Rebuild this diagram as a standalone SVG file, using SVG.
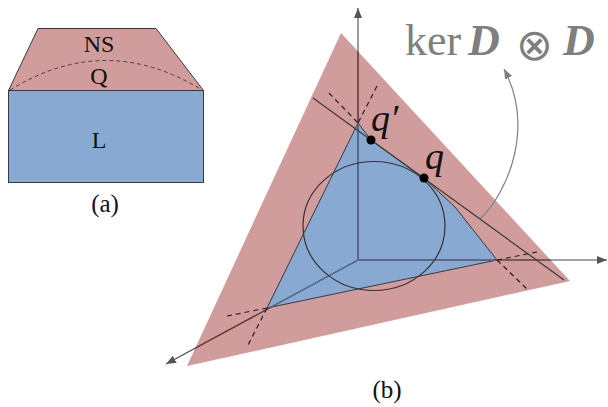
<svg xmlns="http://www.w3.org/2000/svg" width="608" height="407" viewBox="0 0 608 407">
<style>
.pink{fill:#d09c9c}
.blue{fill:#88a9d2}
.edge{stroke:#3a3a3a;stroke-width:1}
.lbl{font-family:"Liberation Serif","DejaVu Serif",serif;fill:#111}
.dash{stroke:#222;stroke-width:1.2;stroke-dasharray:5,4;fill:none}
.axis{fill:none;stroke-width:1.1}
.gray{fill:#7f7f7f}
</style>
<defs>
<marker id="ah" viewBox="0 0 10 8" refX="10" refY="4" markerWidth="10" markerHeight="8" markerUnits="userSpaceOnUse" orient="auto">
<path d="M0,0 L10,4 L0,8 z" fill="#555"/>
</marker>
<marker id="ahg" viewBox="0 0 10 8" refX="10" refY="4" markerWidth="10" markerHeight="8" markerUnits="userSpaceOnUse" orient="auto">
<path d="M0,0 L10,4 L0,8 z" fill="#808080"/>
</marker>
<clipPath id="clipPink"><polygon points="341,33 570,281 187,366"/></clipPath>
<clipPath id="clipBlue"><polygon points="358,123 371,140 424,178 455,207 497,260 267,308"/></clipPath>
</defs>

<!-- Panel (a) -->
<g id="node-ns-a">
<polygon class="pink edge" points="38,28.5 156,28.5 203.5,90.5 8.5,90.5"/>
<text class="lbl" x="99" y="52" font-size="24" text-anchor="middle">NS</text>
</g>
<g id="node-q-a">
<path d="M10,90 Q106,31 202,90" fill="none" stroke="#444" stroke-width="1" stroke-dasharray="4,3"/>
<text class="lbl" x="99" y="84" font-size="24" text-anchor="middle">Q</text>
</g>
<g id="node-l-a">
<rect class="blue edge" x="8.5" y="90.5" width="195" height="92"/>
<text class="lbl" x="99" y="148" font-size="24" text-anchor="middle">L</text>
</g>
<text class="lbl" x="105" y="212" font-size="25" text-anchor="middle">(a)</text>

<!-- Panel (b) -->
<g id="node-ns-b">
<polygon class="pink" points="341,33 570,281 187,366"/>
</g>
<g id="node-l-b">
<polygon class="blue edge" points="358,123 371,140 424,178 455,207 497,260 267,308"/>
</g>

<g id="connectors">
<g id="axes">
<path class="axis" stroke="#4a4a4a" d="M358,260 L358,8" marker-end="url(#ah)"/>
<path class="axis" stroke="#4a4a4a" d="M358,260 L607,260" marker-end="url(#ah)"/>
<path class="axis" stroke="#4a4a4a" d="M358,260 L166,364" marker-end="url(#ah)"/>
<g clip-path="url(#clipPink)">
<path class="axis" stroke="#6e3a3a" d="M358,260 L358,8 M358,260 L607,260 M358,260 L166,364"/>
</g>
<g clip-path="url(#clipBlue)">
<path class="axis" stroke="#4f7ca6" d="M358,260 L358,8 M358,260 L607,260 M358,260 L166,364"/>
</g>
</g>
<g id="extensions">
<path class="dash" d="M329,93 L358,123"/>
<path class="dash" d="M377,86 L358,123"/>
<path class="dash" d="M497,260 L537,252"/>
<path class="dash" d="M497,260 L527,289"/>
<path class="dash" d="M267,308 L227,316"/>
<path class="dash" d="M267,308 L248,345"/>
</g>
<path id="kernel-arrow" d="M480,219 C508,192 535,128 504,69" fill="none" stroke="#808080" stroke-width="1.2" marker-end="url(#ahg)"/>
</g>

<g id="node-q-b">
<ellipse cx="374" cy="226" rx="71" ry="64.5" fill="none" stroke="#333" stroke-width="1.2"/>
</g>
<g id="node-kernel-line">
<line x1="313" y1="98" x2="564" y2="280" stroke="#3a3a3a" stroke-width="1.2"/>
</g>
<g id="node-qprime">
<circle cx="371" cy="140" r="4.5" fill="#000"/>
<text class="lbl" x="371" y="131" font-size="38" font-style="italic">q′</text>
</g>
<g id="node-q">
<circle cx="424" cy="178" r="4.5" fill="#000"/>
<text class="lbl" x="425" y="169" font-size="38" font-style="italic">q</text>
</g>
<g id="label-kerDD">
<text class="gray" font-family="Liberation Serif, DejaVu Serif, serif" font-size="44" y="55">
<tspan x="405">ker</tspan><tspan x="468" font-weight="bold" font-style="italic">D</tspan><tspan x="516" y="60" font-family="DejaVu Sans, sans-serif" font-size="44">⊗</tspan><tspan x="563" y="55" font-weight="bold" font-style="italic">D</tspan>
</text>
</g>
<text class="lbl" x="387" y="398" font-size="25" text-anchor="middle">(b)</text>
</svg>
